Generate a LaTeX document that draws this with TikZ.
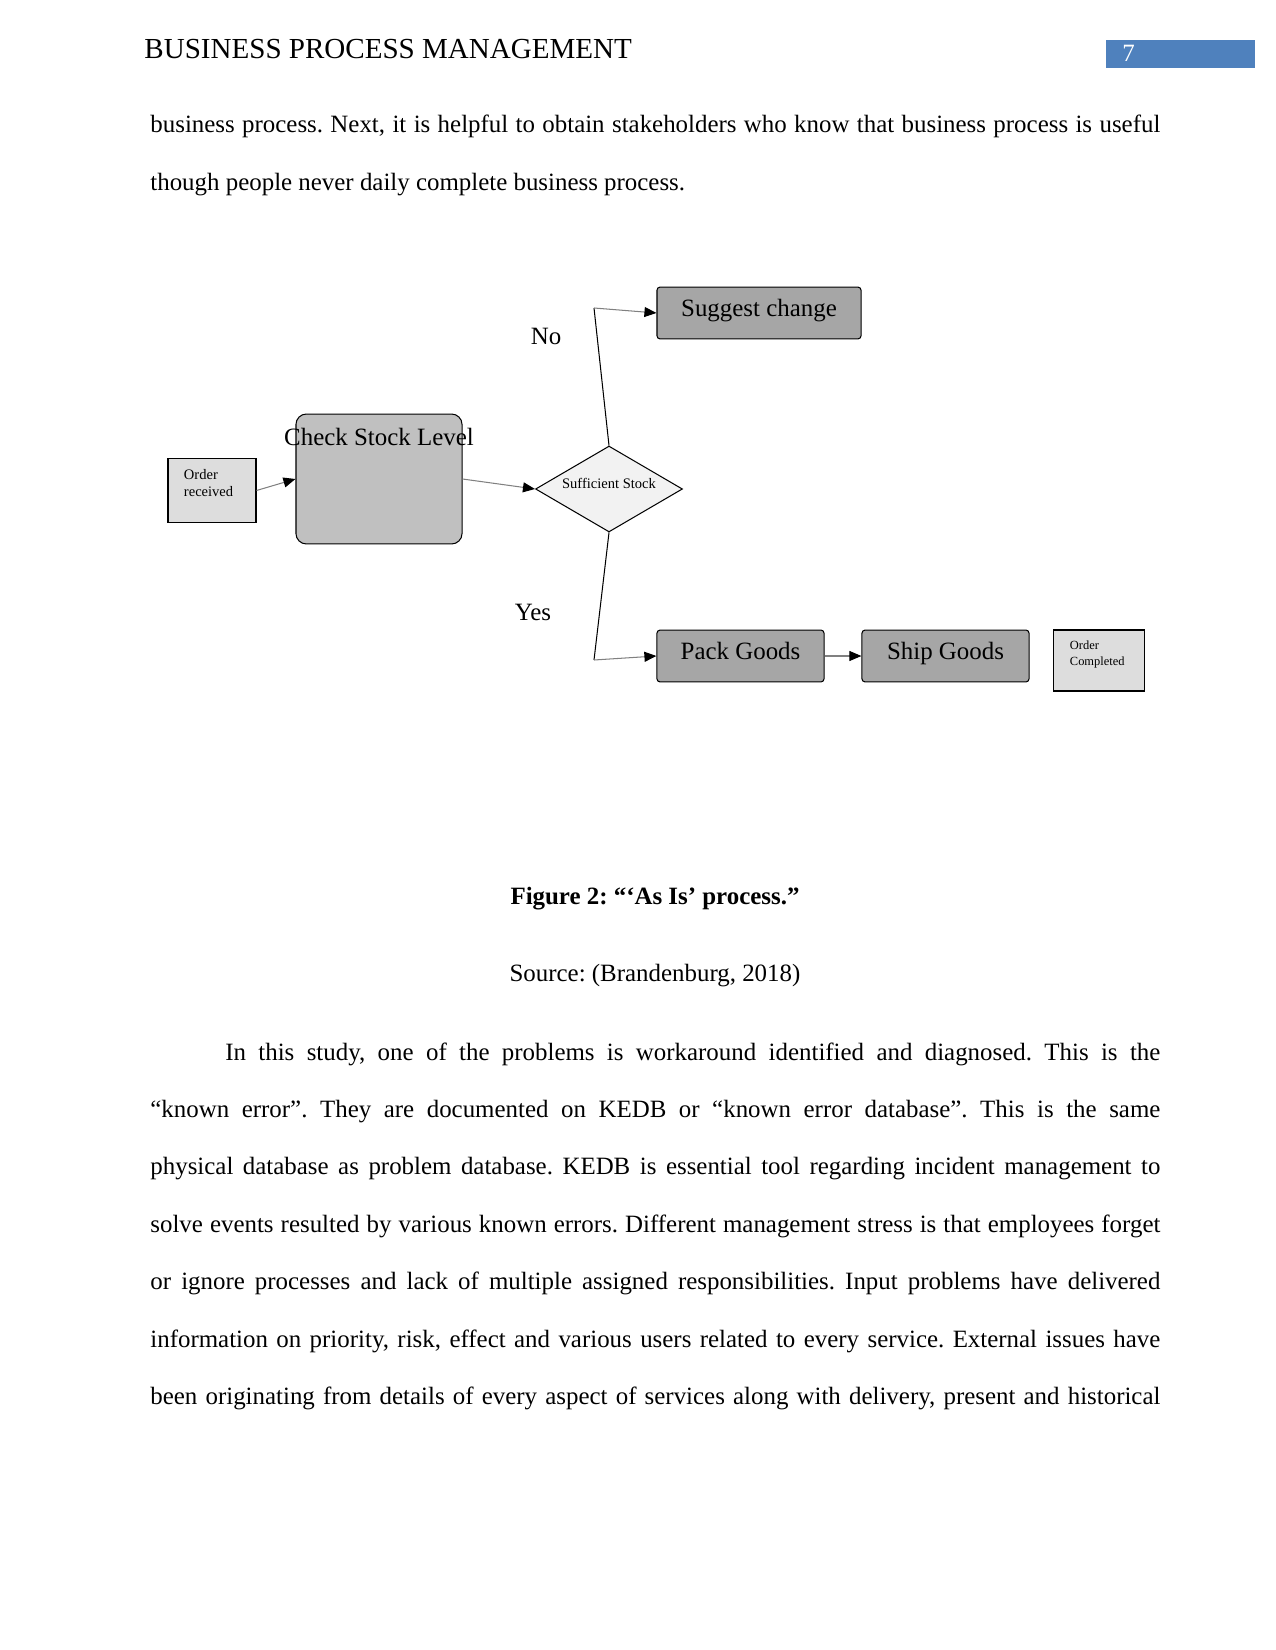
\documentclass[tikz,border=0pt]{standalone}
\usepackage{fontspec}
\setmainfont{Liberation Serif}
\usetikzlibrary{shapes.geometric, arrows.meta}
\definecolor{hdrblue}{RGB}{79,129,189}
\definecolor{linkgray}{RGB}{128,128,128}
\definecolor{actgray}{RGB}{166,166,166}
\definecolor{chkgray}{RGB}{192,192,192}
\definecolor{evgray}{RGB}{221,221,221}
\definecolor{decgray}{RGB}{242,242,242}
\frenchspacing

\begin{document}
\begin{tikzpicture}[
    x=0.4818pt, y=-0.4818pt,
    body/.style={anchor=base west, inner sep=0pt, text width=486.6pt, align=justify, font=\fontsize{12}{27.7}\selectfont},
    act/.style={rectangle, draw, line width=0.5pt, rounded corners=1.5pt, fill=actgray, minimum width=80.5pt, minimum height=25pt, text depth=4.6pt, inner sep=0pt, font=\fontsize{12}{14}\selectfont},
    ev/.style={rectangle, draw, line width=0.5pt, fill=evgray, inner xsep=7.7pt, align=left},
    dec/.style={diamond, aspect=1.71, draw, line width=0.5pt, fill=decgray, minimum width=70.8pt, minimum height=41.4pt, inner sep=0pt, text depth=5.8pt, font=\fontsize{7}{8}\selectfont},
    a/.style={-{Triangle[length=5.8pt, width=4.8pt, color=black]}, linkgray, line width=0.5pt},
    ln/.style={line width=0.5pt},
    lbl/.style={font=\fontsize{12}{14}\selectfont, inner sep=0pt},
]
\useasboundingbox (0,0) rectangle (1275,1650);

% header
\node[anchor=base west, inner sep=0pt, font=\fontsize{14}{16}\selectfont] (hdr) at (144,59) {BUSINESS PROCESS MANAGEMENT};
\fill[hdrblue] (1106,40) rectangle (1255,68);
\node[anchor=base west, inner sep=0pt, text=white, font=\fontsize{12}{14}\selectfont] (pg) at (1122,62) {7};

\node[body] (par1) at (150,133) {business process. Next, it is helpful to obtain stakeholders who know that business process is useful\linebreak though people never daily complete business process.};

% diagram
\node[ev, inner ysep=5.2pt, font=\fontsize{7}{8.2}\selectfont] (order) at (212,490.5) {\parbox[c][20pt][t]{27pt}{Order\\received}};
\node[rectangle, draw, line width=0.5pt, rounded corners=5pt, fill=chkgray, minimum width=80pt, minimum height=62.6pt] (chk) at (379,479) {};
\node[lbl] (chklbl) at (379,437) {Check Stock Level};
\node[dec] (stock) at (609,489) {Sufficient Stock};
\node[act, minimum width=98.3pt] (sugg) at (759,313) {Suggest change};
\node[act] (pack) at (740.5,656) {Pack Goods};
\node[act] (ship) at (945.5,656) {Ship Goods};
\node[ev, inner ysep=5.3pt, font=\fontsize{6}{7.7}\selectfont] (done) at (1099,660.5) {\parbox[c][18.8pt][t]{28pt}{Order\\Completed}};

\coordinate (nobend) at (594,308);
\coordinate (yesbend) at (594,660);

\draw[a] (order.east) -- (chk.west);
\draw[a] (chk.east) -- (stock.west);
\draw[ln] (stock.north) -- (nobend);
\draw[a] (nobend) -- (sugg.west);
\draw[ln] (stock.south) -- (yesbend);
\draw[a] (yesbend) -- (pack.west);
\draw[a] (pack.east) -- (ship.west);

\node[lbl] (nolbl) at (546,336) {No};
\node[lbl] (yeslbl) at (533,612) {Yes};

% caption
\node[anchor=base, inner sep=0pt, font=\fontsize{12}{14}\selectfont\bfseries] (cap) at (655,904) {Figure 2: “‘As Is’ process.”};
\node[anchor=base, inner sep=0pt, font=\fontsize{12}{14}\selectfont] (src) at (655,981) {Source: (Brandenburg, 2018)};

\node[body] (par2) at (150,1060) {\noindent\hspace*{36.1pt}In this study, one of the problems is workaround identified and diagnosed. This is the\linebreak
“known error”. They are documented on KEDB or “known error database”. This is the same\linebreak
physical database as problem database. KEDB is essential tool regarding incident management to\linebreak
solve events resulted by various known errors. Different management stress is that employees forget\linebreak
or ignore processes and lack of multiple assigned responsibilities. Input problems have delivered\linebreak
information on priority, risk, effect and various users related to every service. External issues have\linebreak
been originating from details of every aspect of services along with delivery, present and historical\parfillskip=0pt\par};
\end{tikzpicture}
\end{document}
